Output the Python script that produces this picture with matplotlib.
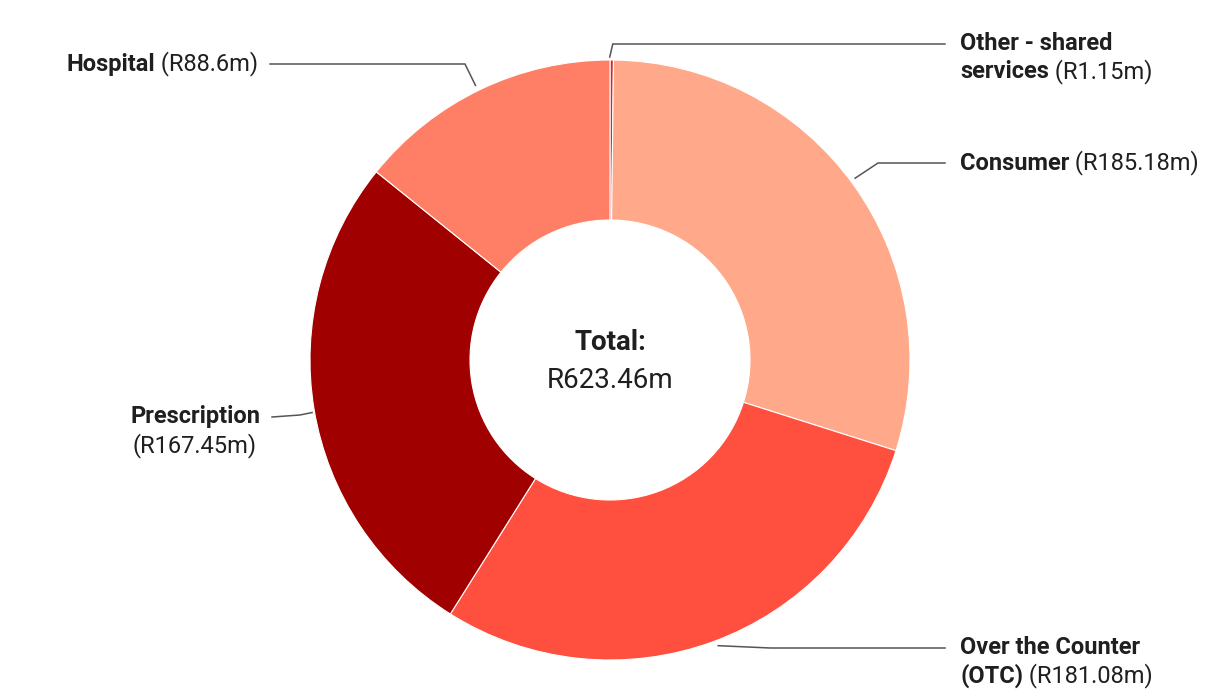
import matplotlib
matplotlib.use("Agg")
import matplotlib.pyplot as plt
import math

# ---- data ----
categories = ["Other - shared services", "Consumer", "Over the Counter (OTC)", "Prescription", "Hospital"]
values = [1.15, 185.18, 181.08, 167.45, 88.6]
colors = ["#D9262C", "#FFA98A", "#FF4F3F", "#A10000", "#FF7F66"]
value_labels = ["(R1.15m)", "(R185.18m)", "(R181.08m)", "(R167.45m)", "(R88.6m)"]
total_label = "R623.46m"

plt.rcParams['font.family'] = ['Roboto', 'DejaVu Sans']

W, H = 1220, 700
fig = plt.figure(figsize=(W / 100, H / 100), dpi=100)
ax = fig.add_axes([0, 0, 1, 1])

def Y(py):
    return H - py

cx, cy = 610, 360
R, r_in = 300, 140
wedges, _ = ax.pie(values, colors=colors, startangle=90, counterclock=False,
                   radius=R, center=(cx, Y(cy)),
                   wedgeprops=dict(width=R - r_in, edgecolor='white', linewidth=0.8),
                   frame=True)
ax.set_xlim(0, W)
ax.set_ylim(0, H)
ax.set_aspect('equal')
ax.axis('off')

fig.canvas.draw()
renderer = fig.canvas.get_renderer()
FS = 17
TXT = '#1f1f1f'

def draw_line(segs, x, py, ha='left'):
    widths = []
    for t, w in segs:
        tmp = ax.text(0, 0, t, fontsize=FS, fontweight=w)
        bb = tmp.get_window_extent(renderer=renderer)
        widths.append(bb.width)
        tmp.remove()
    total = sum(widths)
    if ha == 'right':
        x0 = x - total
    elif ha == 'center':
        x0 = x - total / 2
    else:
        x0 = x
    for (t, w), wd in zip(segs, widths):
        ax.text(x0, Y(py), t, fontsize=FS, fontweight=w, color=TXT, va='center', ha='left')
        x0 += wd

cum = 0.0
tot = sum(values)
mids = []
for v in values:
    mids.append((cum + v / 2) / tot * 2 * math.pi)
    cum += v

def edge_pt(i, rr=R):
    a = mids[i]
    return cx + rr * math.sin(a), cy - rr * math.cos(a)

LC = '#555555'
LW = 1.1
def leader(pts):
    ax.plot([p[0] for p in pts], [Y(p[1]) for p in pts], color=LC, lw=LW,
            solid_joinstyle='miter')

# Other
sx, sy = edge_pt(0)
leader([(sx - 2, sy - 3), (sx + 1, 44), (945, 44)])
draw_line([("Other - shared", 'bold')], 960, 44)
draw_line([("services", 'bold'), (" " + value_labels[0], 'normal')], 960, 72)

# Consumer
sx, sy = edge_pt(1)
leader([(sx + 2, sy - 6), (878, 163), (945, 163)])
draw_line([("Consumer", 'bold'), (" " + value_labels[1], 'normal')], 960, 163)

# OTC
sx, sy = edge_pt(2)
leader([(sx + 5, sy + 4), (770, 648), (945, 648)])
draw_line([("Over the Counter", 'bold')], 960, 648)
draw_line([("(OTC)", 'bold'), (" " + value_labels[2], 'normal')], 960, 676)

# Prescription
sx, sy = edge_pt(3)
leader([(sx - 2, sy + 3), (300, 415), (272, 417)])
draw_line([("Prescription", 'bold')], 195, 417, ha='center')
draw_line([(value_labels[3], 'normal')], 195, 446, ha='center')

# Hospital
sx, sy = edge_pt(4)
leader([(sx - 5, sy - 4), (465, 64), (270, 64)])
draw_line([("Hospital", 'bold'), (" " + value_labels[4], 'normal')], 258, 64, ha='right')

# Center
ax.text(cx, Y(342), "Total:", fontsize=20, fontweight='bold', color=TXT, ha='center', va='center')
ax.text(cx, Y(380), total_label, fontsize=20, color=TXT, ha='center', va='center')

fig.savefig("out.png", dpi=100, facecolor='white')
